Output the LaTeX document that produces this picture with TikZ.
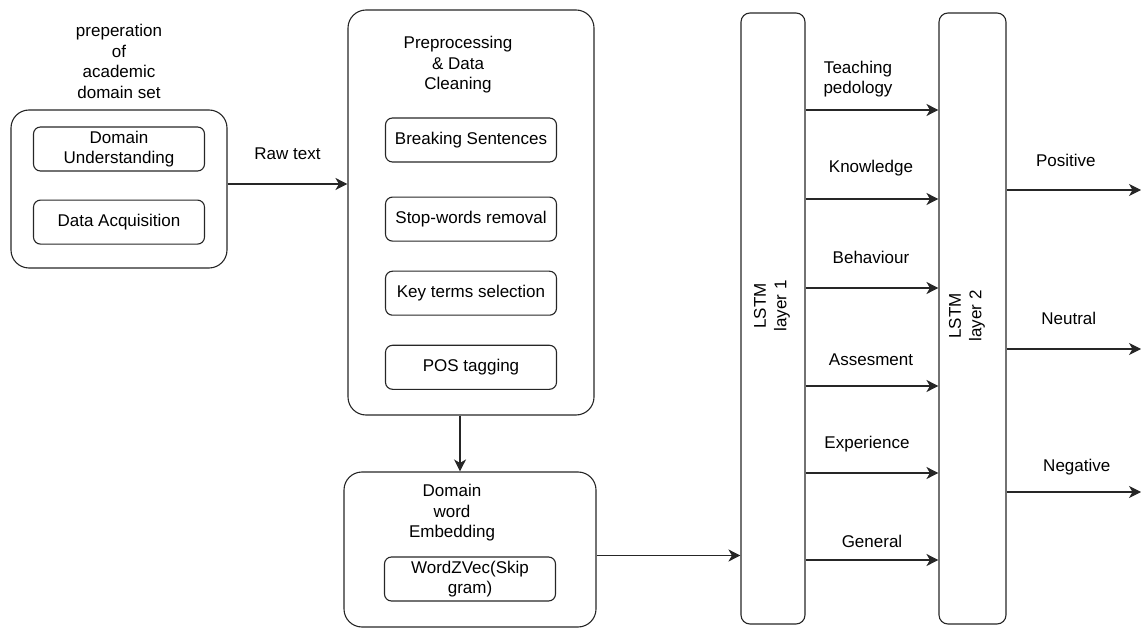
\documentclass[tikz,border=0pt]{standalone}
\usepackage{fontspec}
\setmainfont{Liberation Sans}
\usepackage{tikz}
\usetikzlibrary{
  positioning,
  arrows.meta,
  calc
}

\begin{document}
\begin{tikzpicture}[
  x=1pt, y=-1pt,
  font=\fontsize{17}{20.5}\selectfont,
  group/.style={
    rectangle,
    rounded corners=18pt,
    draw=black!85,
    line width=1.1pt
  },
  task/.style={
    rectangle,
    rounded corners=7pt,
    draw=black!85,
    line width=1.1pt,
    minimum width=171pt,
    minimum height=44pt,
    inner sep=2pt,
    align=center
  },
  layer/.style={
    rectangle,
    rounded corners=9pt,
    draw=black!85,
    line width=1.1pt,
    minimum height=611pt
  },
  heading/.style={
    inner sep=0pt,
    align=center
  },
  lbl/.style={
    inner sep=0pt,
    anchor=base
  },
  arrow/.style={
    -{Stealth[length=12pt,width=12pt,inset=3.5pt]},
    line width=1.1pt,
    draw=black!85
  }
]
\useasboundingbox (0,0) rectangle (1141,628);

% Data preparation
\node[group, minimum width=216pt, minimum height=158pt] (prep) at (119,189) {};
\node[heading, above=11pt of prep] (preptitle) {preperation\\of\\academic\\domain set};
\node[task, below=17pt of prep.north] (understand) {Domain\\Understanding};
\node[task, below=28pt of understand] (acquire) {Data Acquisition};

% Preprocessing
\node[group, minimum width=246pt, minimum height=405pt] (clean) at (471,212.5) {};
\node[heading, below=27pt of clean.north, xshift=-13pt] (cleantitle) {Preprocessing\\\& Data\\Cleaning};
\node[task, below=108pt of clean.north] (split) {Breaking Sentences};
\node[task, below=34pt of split] (stopw) {Stop-words removal};
\node[task, below=29pt of stopw] (keyterm) {Key terms selection};
\node[task, below=29pt of keyterm] (postag) {POS tagging};

% Embedding
\node[group, minimum width=252pt, minimum height=155pt] (embed) at (470,549.5) {};
\node[heading, below=13pt of embed.north, xshift=-18pt] (embedtitle) {Domain\\word\\Embedding};
\node[task, below=85pt of embed.north] (wordvec) {WordZVec(Skip\\gram)};

% LSTM layers
\node[layer, minimum width=64pt] (lstm1) at (773,318.5) {};
\node[layer, minimum width=67pt] (lstm2) at (972.5,318.5) {};
\node[heading, rotate=90] (lstm1text) at (772,306) {LSTM\\layer 1};
\node[heading, rotate=90] (lstm2text) at (967,316) {LSTM\\layer 2};

% Flow
\coordinate (rawout) at ([yshift=5pt]prep.east);
\coordinate (embout) at ([yshift=-6pt]embed.east);
\coordinate (rightedge) at (1141,0);
\draw[arrow] (rawout) -- (rawout -| clean.west) node[midway, lbl, yshift=24pt] (rawtext) {Raw text};
\draw[arrow] ([xshift=-11pt]clean.south) -- ([xshift=-10pt]embed.north);
\draw[arrow] (embout) -- (embout -| lstm1.west);

% Topics
\draw[arrow] (lstm1.east |- 0,110) -- (lstm2.west |- 0,110) node[midway, heading, anchor=south, xshift=-14pt, yshift=12pt] (topic110) {Teaching\\pedology};
\foreach \y/\topic/\dx/\dy in {199/Knowledge/-1/26, 288/Behaviour/-1/24, 386/Assesment/-1/20, 473/Experience/-5/25, 560/General/0/13}
  \draw[arrow] (lstm1.east |- 0,\y) -- (lstm2.west |- 0,\y) node[midway, lbl, xshift=\dx pt, yshift=\dy pt] (topic\y) {\topic};

% Sentiment
\foreach \y/\mood/\dx/\dy in {190/Positive/-8/23, 349/Neutral/-5/24, 492/Negative/3/21}
  \draw[arrow] (lstm2.east |- 0,\y) -- (rightedge |- 0,\y) node[midway, lbl, xshift=\dx pt, yshift=\dy pt] (mood\y) {\mood};

\end{tikzpicture}
\end{document}
